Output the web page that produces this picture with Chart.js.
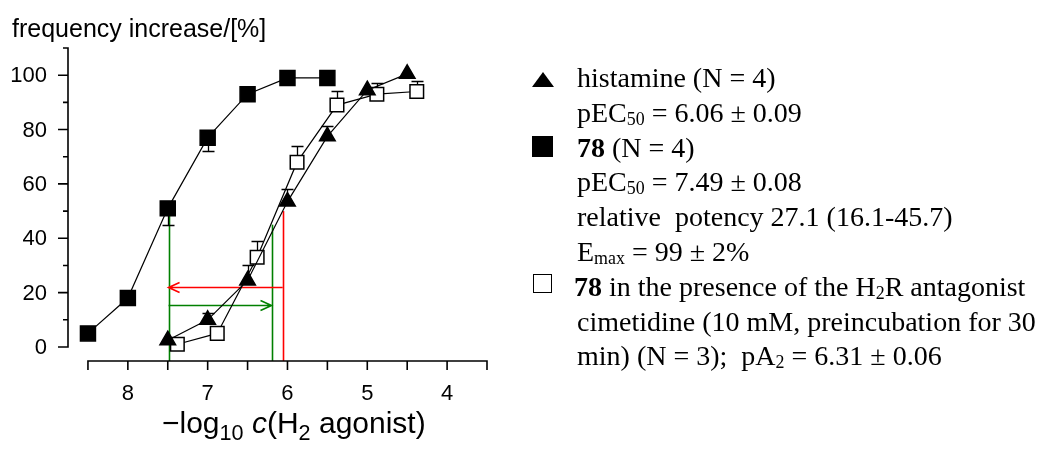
<!DOCTYPE html>
<html>
<head>
<meta charset="utf-8">
<script src="https://cdn.jsdelivr.net/npm/chart.js@4.4.0/dist/chart.umd.min.js"></script>
<style>
    html, body { margin: 0; padding: 0; background: #fff; }
    #wrap { position: relative; width: 1060px; height: 449px; overflow: hidden; }
    #chart { position: absolute; left: 0; top: 0; }
    .sans { position: absolute; font-family: "Liberation Sans", Arial, sans-serif; color: #000; white-space: nowrap; }
    #ytitle { left: 12px; top: 16px; font-size: 25px; line-height: 25px; }
    #xtitle { left: 162px; top: 408px; font-size: 30px; line-height: 30px; }
    #xtitle sub { font-size: 0.72em; line-height: 0; vertical-align: -0.32em; }
    #legend { position: absolute; left: 577px; top: 61px; font-family: "Liberation Serif", "Times New Roman", serif;
              font-size: 28px; line-height: 34.8px; color: #000; white-space: nowrap; }
    #legend sub { font-size: 0.64em; line-height: 0; vertical-align: -0.18em; }
    .sym { position: absolute; }
    .tri { left: 532px; top: 72px; width: 0; height: 0; border-left: 11.5px solid transparent;
           border-right: 11.5px solid transparent; border-bottom: 15px solid #000; }
    .sq { left: 532px; top: 136px; width: 21px; height: 21px; background: #000; }
    .osq { left: 533px; top: 274px; width: 17px; height: 17px; border: 1.5px solid #000; background: #fff; }
</style>
</head>
<body>
<div id="wrap">
    <canvas id="chart" width="1060" height="449"></canvas>
    <div id="ytitle" class="sans">frequency increase/[%]</div>
    <div id="xtitle" class="sans">&minus;log<sub>10</sub> <i>c</i>(H<sub>2</sub> agonist)</div>
    <div class="sym tri"></div>
    <div class="sym sq"></div>
    <div class="sym osq"></div>
    <div id="legend">
        <div>histamine (N = 4)</div>
        <div>pEC<sub>50</sub> = 6.06 ± 0.09</div>
        <div><b>78</b> (N = 4)</div>
        <div>pEC<sub>50</sub> = 7.49 ± 0.08</div>
        <div>relative&nbsp; potency 27.1 (16.1-45.7)</div>
        <div>E<sub>max</sub> = 99 ± 2%</div>
        <div style="margin-left:-3px"><b>78</b> in the presence of the H<sub>2</sub>R antagonist</div>
        <div>cimetidine (10 mM, preincubation for 30</div>
        <div>min) (N = 3);&nbsp; pA<sub>2</sub> = 6.31 ± 0.06</div>
    </div>
</div>
<script>
// ---- data ----
const histX = [7.5, 7.0, 6.5, 6.0, 5.5, 5.0, 4.5];
const histY = [2.5, 10, 24.5, 53.5, 77.5, 94.5, 100.5];
const histErr = [0, 2.4, 5.6, 4.6, 3.9, 0, 0];      // drawn upwards

const cmpX = [8.5, 8.0, 7.5, 7.0, 6.5, 6.0, 5.5];
const cmpY = [5, 18, 51, 77, 93, 99, 99];
const cmpErr = [0, 0, 6, 5, 0, 0, 0];               // drawn downwards

const cimX = [7.38, 6.88, 6.38, 5.88, 5.38, 4.88, 4.38];
const cimY = [1, 5, 33, 68, 89, 93, 94];
const cimErr = [0, 0, 6, 6, 5, 4, 4];               // drawn upwards

const xMajorTicks = [8, 7, 6, 5, 4];
const xMinorTicks = [8.5, 7.5, 6.5, 5.5, 4.5, 3.5];
const yMajorTicks = [0, 20, 40, 60, 80, 100];
const yMinorTicks = [10, 30, 50, 70, 90, 110];

// pEC50 guide lines and shift arrows
const guideX = [7.49, 6.20, 6.06];
const guideTop = [50, 45, 50];
const guideColor = ['#008000', '#008000', '#ff0000'];
const arrowFrom = [6.06, 7.49];
const arrowTo = [7.49, 6.20];
const arrowY = [22, 15.5];
const arrowColor = ['#ff0000', '#008000'];

const toPoints = (xs, ys) => xs.map((x, i) => ({ x: x, y: ys[i] }));

const prismAxes = {
    id: 'prismAxes',
    beforeDatasetsDraw(chart) {
        const { ctx, chartArea, scales: { x, y } } = chart;
        ctx.save();
        ctx.lineWidth = 1.6;

        // guide verticals down to the x axis
        guideX.forEach((gx, i) => {
            const px = Math.round(x.getPixelForValue(gx)) + 0.5;
            ctx.strokeStyle = guideColor[i];
            ctx.beginPath();
            ctx.moveTo(px, y.getPixelForValue(guideTop[i]));
            ctx.lineTo(px, chartArea.bottom);
            ctx.stroke();
        });

        // arrows
        arrowY.forEach((ay, i) => {
            const py = Math.round(y.getPixelForValue(ay)) + 0.5;
            const x0 = x.getPixelForValue(arrowFrom[i]);
            const x1 = x.getPixelForValue(arrowTo[i]);
            const dir = x1 > x0 ? 1 : -1;
            ctx.strokeStyle = arrowColor[i];
            ctx.beginPath();
            ctx.moveTo(x0, py);
            ctx.lineTo(x1, py);
            ctx.moveTo(x1 - dir * 11, py - 5);
            ctx.lineTo(x1, py);
            ctx.lineTo(x1 - dir * 11, py + 5);
            ctx.stroke();
        });

        // error bars
        ctx.strokeStyle = '#000';
        ctx.lineWidth = 1.3;
        chart.data.datasets.forEach(ds => {
            ds.data.forEach((p, i) => {
                const e = ds.errors[i];
                if (!e) return;
                const px = Math.round(x.getPixelForValue(p.x)) + 0.5;
                const py0 = y.getPixelForValue(p.y);
                const py1 = Math.round(y.getPixelForValue(p.y + ds.errDir * e)) + 0.5;
                ctx.beginPath();
                ctx.moveTo(px, py0);
                ctx.lineTo(px, py1);
                ctx.moveTo(px - 6, py1);
                ctx.lineTo(px + 6, py1);
                ctx.stroke();
            });
        });
        ctx.restore();
    },
    afterDraw(chart) {
        const { ctx, chartArea, scales: { x, y } } = chart;
        ctx.save();
        ctx.strokeStyle = '#000';
        ctx.fillStyle = '#000';
        ctx.lineWidth = 1.6;

        // y axis
        const ax = chartArea.left;
        ctx.beginPath();
        ctx.moveTo(ax, y.getPixelForValue(0) + 0.8);
        ctx.lineTo(ax, y.getPixelForValue(110) - 0.8);
        yMajorTicks.forEach(v => {
            const py = y.getPixelForValue(v);
            ctx.moveTo(ax, py);
            ctx.lineTo(ax - 10, py);
        });
        yMinorTicks.forEach(v => {
            const py = y.getPixelForValue(v);
            ctx.moveTo(ax, py);
            ctx.lineTo(ax - 5, py);
        });
        ctx.stroke();

        ctx.font = '22px "Liberation Sans", Arial, sans-serif';
        ctx.textAlign = 'right';
        ctx.textBaseline = 'middle';
        yMajorTicks.forEach(v => ctx.fillText(String(v), ax - 21, y.getPixelForValue(v) + 1));

        // x axis
        const ay = chartArea.bottom;
        ctx.beginPath();
        ctx.moveTo(x.getPixelForValue(8.5) - 0.8, ay);
        ctx.lineTo(x.getPixelForValue(3.5) + 0.8, ay);
        xMajorTicks.concat(xMinorTicks).forEach(v => {
            const px = x.getPixelForValue(v);
            ctx.moveTo(px, ay);
            ctx.lineTo(px, ay + 9);
        });
        ctx.stroke();

        ctx.textAlign = 'center';
        xMajorTicks.forEach(v => ctx.fillText(String(v), x.getPixelForValue(v), ay + 33));
        ctx.restore();
    }
};

const common = {
    showLine: true,
    borderColor: '#000',
    borderWidth: 1.2,
    pointBorderColor: '#000',
    pointBorderWidth: 1.5,
    clip: false,
    tension: 0
};

new Chart(document.getElementById('chart'), {
    type: 'scatter',
    data: {
        datasets: [
            Object.assign({}, common, {
                label: 'histamine',
                data: toPoints(histX, histY),
                errors: histErr, errDir: 1,
                pointStyle: 'triangle', pointRadius: 9,
                pointBackgroundColor: '#000'
            }),
            Object.assign({}, common, {
                label: '78 + cimetidine',
                data: toPoints(cimX, cimY),
                errors: cimErr, errDir: 1,
                pointStyle: 'rect', pointRadius: 9.6,
                pointBackgroundColor: '#fff'
            }),
            Object.assign({}, common, {
                label: '78',
                data: toPoints(cmpX, cmpY),
                errors: cmpErr, errDir: -1,
                pointStyle: 'rect', pointRadius: 10.6,
                pointBackgroundColor: '#000'
            })
        ]
    },
    options: {
        responsive: false,
        animation: false,
        devicePixelRatio: 1,
        layout: { padding: { left: 68, right: 573, top: 48, bottom: 88 } },
        plugins: {
            legend: { display: false },
            tooltip: { enabled: false }
        },
        scales: {
            x: { type: 'linear', min: 3.5, max: 8.75, reverse: true, display: false },
            y: { type: 'linear', min: -5.15, max: 110, display: false }
        }
    },
    plugins: [prismAxes]
});
</script>
</body>
</html>
